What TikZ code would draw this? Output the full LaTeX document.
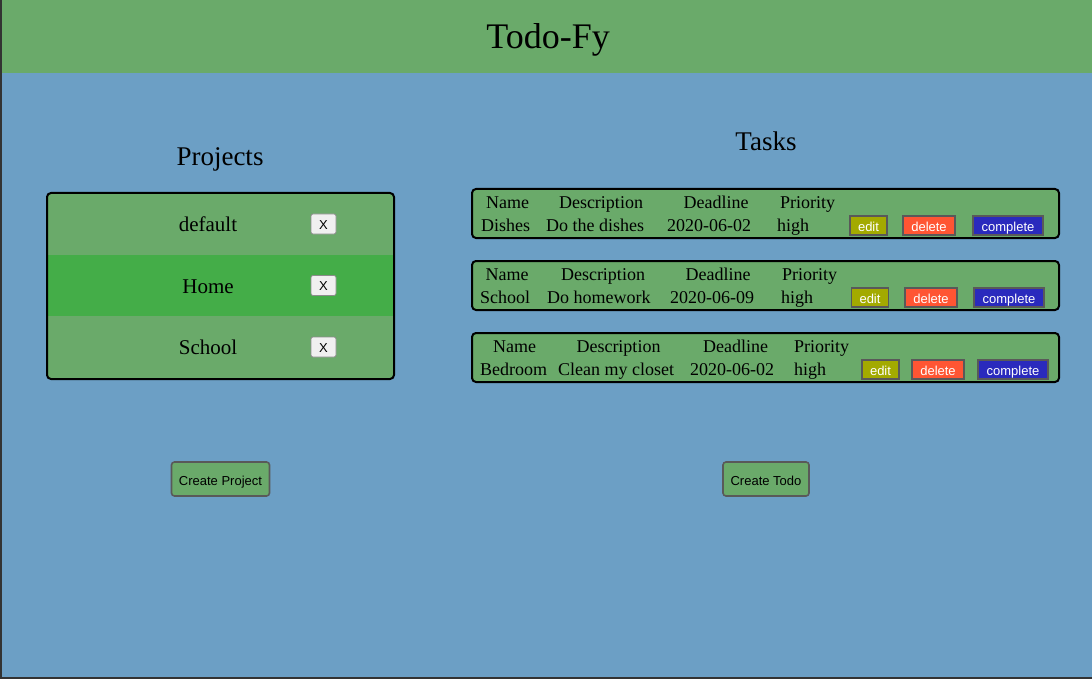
\documentclass[tikz,border=0pt]{standalone}
\usepackage{fontspec}
\setmainfont{Liberation Serif}
\newfontfamily\btnfont{Liberation Sans}
\definecolor{bgblue}{HTML}{6C9FC5}
\definecolor{hdrgreen}{HTML}{6AAA6A}
\definecolor{homegreen}{HTML}{44AD48}
\definecolor{editc}{HTML}{A3AA00}
\definecolor{delc}{HTML}{FF5533}
\definecolor{compc}{HTML}{2A2ABD}
\definecolor{frame}{HTML}{333333}
\begin{document}
\begin{tikzpicture}[x=1pt,y=-1pt,
  title/.style={font=\fontsize{36}{40}\selectfont, anchor=base, inner sep=0},
  heading/.style={font=\fontsize{27}{30}\selectfont, anchor=base, inner sep=0},
  projlabel/.style={font=\fontsize{21}{24}\selectfont, anchor=base, inner sep=0},
  thead/.style={font=\fontsize{18}{20}\selectfont, anchor=base, inner sep=0},
  tcell/.style={font=\fontsize{18}{20}\selectfont, anchor=base west, inner sep=0},
  btnbase/.style={font=\btnfont\fontsize{13}{14}\selectfont, text=white, draw=black!65, line width=1.5pt, inner sep=0, minimum height=19pt, text height=11pt, text depth=0pt},
  editbtn/.style={btnbase, fill=editc, minimum width=37pt},
  delbtn/.style={btnbase, fill=delc, minimum width=52pt},
  compbtn/.style={btnbase, fill=compc, minimum width=70pt},
  xbtn/.style={font=\btnfont\fontsize{13}{14}\selectfont, fill=black!6, draw=black!45, line width=0.8pt, rounded corners=2pt, inner sep=0, minimum width=25pt, minimum height=20pt, text height=10.6pt, text depth=0pt},
  createbtn/.style={font=\btnfont\fontsize{13}{14}\selectfont, fill=hdrgreen, draw=black!65, line width=1.6pt, rounded corners=3pt, inner sep=0, minimum height=34pt, text height=12pt, text depth=0pt},
  taskbox/.style={fill=hdrgreen, draw=black, line width=2pt, rounded corners=4pt}
]
\useasboundingbox (0,0) rectangle (1092,679);
% background
\fill[bgblue] (0,0) rectangle (1092,679);
\fill[hdrgreen] (0,0) rectangle (1092,73);
\fill[frame] (0,0) rectangle (2,679);
\fill[frame] (0,677) rectangle (1092,679);

\node[title] (title) at (548,49) {Todo-Fy};
\node[heading] (projects) at (220,166) {Projects};
\node[heading] (tasks) at (766,151) {Tasks};

% projects list
\begin{scope}
\clip[rounded corners=4pt] (47,193) rectangle (394,379);
\fill[hdrgreen] (47,193) rectangle (394,379);
\fill[homegreen] (47,255) rectangle (394,316);
\end{scope}
\draw[black, line width=2pt, rounded corners=4pt] (47,193) rectangle (394,379);
\node[projlabel] (pdefault) at (208,231) {default};
\node[projlabel] (phome) at (208,293) {Home};
\node[projlabel] (pschool) at (208,354) {School};
\node[xbtn] (xdefault) at (323.5,224) {X};
\node[xbtn] (xhome) at (323.5,285.5) {X};
\node[xbtn] (xschool) at (323.5,347) {X};

% task 1
\draw[taskbox] (472,189) rectangle (1059,238);
\node[thead] (h1a) at (507.5,208) {Name};
\node[thead] (h1b) at (601,208) {Description};
\node[thead] (h1c) at (716,208) {Deadline};
\node[thead] (h1d) at (807.5,208) {Priority};
\node[tcell] (d1a) at (481,231) {Dishes};
\node[tcell] (d1b) at (546,231) {Do the dishes};
\node[tcell] (d1c) at (667,231) {2020-06-02};
\node[tcell] (d1d) at (777,231) {high};
\node[editbtn] (e1) at (868.5,225.5) {edit};
\node[delbtn] (del1) at (929,225.5) {delete};
\node[compbtn] (c1) at (1008,225.5) {complete};

% task 2
\draw[taskbox] (472,261) rectangle (1059,310);
\node[thead] (h2a) at (507,280) {Name};
\node[thead] (h2b) at (603,280) {Description};
\node[thead] (h2c) at (718,280) {Deadline};
\node[thead] (h2d) at (809.5,280) {Priority};
\node[tcell] (d2a) at (480,303) {School};
\node[tcell] (d2b) at (547,303) {Do homework};
\node[tcell] (d2c) at (670,303) {2020-06-09};
\node[tcell] (d2d) at (781,303) {high};
\node[editbtn] (e2) at (870,297.5) {edit};
\node[delbtn] (del2) at (931,297.5) {delete};
\node[compbtn] (c2) at (1009,297.5) {complete};

% task 3
\draw[taskbox] (472,333) rectangle (1059,382);
\node[thead] (h3a) at (514.5,352) {Name};
\node[thead] (h3b) at (618.5,352) {Description};
\node[thead] (h3c) at (735.5,352) {Deadline};
\node[thead] (h3d) at (821.5,352) {Priority};
\node[tcell] (d3a) at (480,375) {Bedroom};
\node[tcell] (d3b) at (558,375) {Clean my closet};
\node[tcell] (d3c) at (690,375) {2020-06-02};
\node[tcell] (d3d) at (794,375) {high};
\node[editbtn] (e3) at (880.5,369.5) {edit};
\node[delbtn] (del3) at (938,369.5) {delete};
\node[compbtn] (c3) at (1013,369.5) {complete};

% create buttons
\node[createbtn, minimum width=98pt] (cproj) at (220.5,479) {Create Project};
\node[createbtn, minimum width=86pt] (ctodo) at (766,479) {Create Todo};
\end{tikzpicture}
\end{document}
